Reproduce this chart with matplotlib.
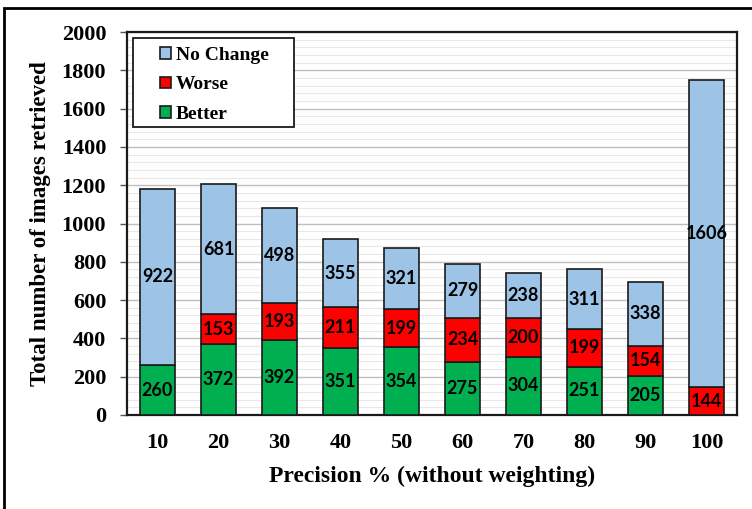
import matplotlib
matplotlib.use('Agg')
import matplotlib.pyplot as plt
import numpy as np
from matplotlib.patches import Rectangle
from matplotlib.ticker import MultipleLocator

precision = ['10', '20', '30', '40', '50', '60', '70', '80', '90', '100']
better    = [260, 372, 392, 351, 354, 275, 304, 251, 205, 0]
worse     = [0, 153, 193, 211, 199, 234, 200, 199, 154, 144]
no_change = [922, 681, 498, 355, 321, 279, 238, 311, 338, 1606]

serif = 'Liberation Serif'
C_BETTER, C_WORSE, C_NOCH = '#00B050', '#FF0000', '#9DC3E6'

fig = plt.figure(figsize=(7.52, 5.09), dpi=100)
ax = fig.add_axes([127 / 752, 1 - 415 / 509, 610 / 752, 383 / 509])

x = np.arange(len(precision))
b = np.array(better)
w = np.array(worse)
n = np.array(no_change)
width = 0.57

bars_b = ax.bar(x, b, width, color=C_BETTER, edgecolor='#1a1a1a', linewidth=1.2,
                label='Better', zorder=3)
bars_w = ax.bar(x, w, width, bottom=b, color=C_WORSE, edgecolor='#1a1a1a',
                linewidth=1.2, label='Worse', zorder=3)
bars_n = ax.bar(x, n, width, bottom=b + w, color=C_NOCH, edgecolor='#1a1a1a',
                linewidth=1.2, label='No Change', zorder=3)

# segment values, skipping empty segments
for vals, base in ((b, np.zeros_like(b)), (w, b), (n, b + w)):
    for xi, v, b0 in zip(x, vals, base):
        if v > 0:
            ax.text(xi, b0 + v / 2, f'{v}', ha='center', va='center',
                    fontsize=13, fontweight='bold', family='Lato',
                    color='black', zorder=4)

ax.set_xlim(-0.5, len(precision) - 0.5)
ax.set_ylim(0, 2000)
ax.yaxis.set_major_locator(MultipleLocator(200))
ax.yaxis.set_minor_locator(MultipleLocator(40))
ax.grid(axis='y', which='major', color='#BFBFBF', linewidth=1.0, zorder=0)
ax.grid(axis='y', which='minor', color='#E8E8E8', linewidth=0.8, zorder=0)
ax.set_axisbelow(True)

ax.set_xticks(x)
ax.set_xticklabels(precision)
ax.tick_params(axis='x', length=0, pad=13)
ax.tick_params(axis='y', which='major', length=5, width=1, color='#555555', pad=10)
ax.tick_params(axis='y', which='minor', length=0)
for lab in ax.get_xticklabels() + ax.get_yticklabels():
    lab.set_family(serif)
    lab.set_fontweight('bold')
    lab.set_fontsize(16)

for sp in ax.spines.values():
    sp.set_linewidth(1.6)
    sp.set_color('#1a1a1a')

ax.set_xlabel('Precision % (without weighting)', family=serif, fontweight='bold',
              fontsize=17, labelpad=9)
ax.set_ylabel('Total number of images retrieved', family=serif, fontweight='bold',
              fontsize=16.5, labelpad=8)

# legend entries without their own frame; the box is drawn separately so it
# can be wider than the entries
handles = [bars_n, bars_w, bars_b]
leg = ax.legend(handles, [h.get_label() for h in handles], loc='upper left',
                bbox_to_anchor=(0.054, 0.962), frameon=False,
                prop={'family': serif, 'weight': 'bold', 'size': 14},
                handlelength=0.55, handleheight=0.55, handletextpad=0.28,
                labelspacing=0.66, borderpad=0, borderaxespad=0)
leg.set_zorder(6)
ax.add_patch(Rectangle((0.0098, 0.752), 0.264, 0.232, transform=ax.transAxes,
                       facecolor='white', edgecolor='#1a1a1a', linewidth=1.3,
                       zorder=5))

# outer frame around the whole chart
fig.patches.append(Rectangle((4 / 752, -0.1), 1.2, 1.1 - 8 / 509,
                             transform=fig.transFigure, fill=False,
                             edgecolor='black', linewidth=2.0))

fig.savefig('out.png', dpi=100)
